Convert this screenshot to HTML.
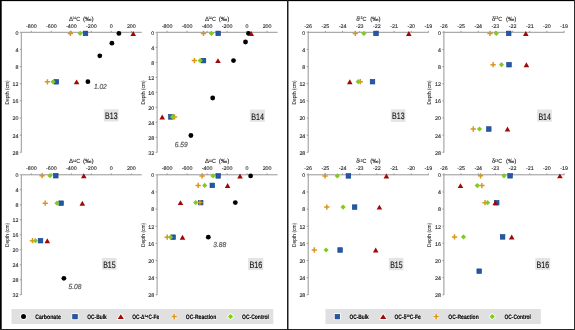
<!DOCTYPE html><html><head><meta charset="utf-8"><style>html,body{margin:0;padding:0;background:#fff;overflow:hidden}svg{display:block;will-change:transform}</style></head><body><svg width="575" height="330" viewBox="0 0 575 330" text-rendering="geometricPrecision" font-family='"Liberation Sans", sans-serif'>
<rect width="575" height="330" fill="#fff"/>
<path d="M21.30 32.30 H141.80 M21.30 32.30 V152.50" stroke="#8a8a8a" stroke-width="0.9" fill="none"/>
<path d="M31.30 30.80 V32.30" stroke="#8a8a8a" stroke-width="0.8"/>
<text x="31.30" y="27.50" font-size="5.3" text-anchor="middle" fill="#1c1c1c" stroke="#1c1c1c" stroke-width="0.1" >-800</text>
<path d="M51.30 30.80 V32.30" stroke="#8a8a8a" stroke-width="0.8"/>
<text x="51.30" y="27.50" font-size="5.3" text-anchor="middle" fill="#1c1c1c" stroke="#1c1c1c" stroke-width="0.1" >-600</text>
<path d="M71.30 30.80 V32.30" stroke="#8a8a8a" stroke-width="0.8"/>
<text x="71.30" y="27.50" font-size="5.3" text-anchor="middle" fill="#1c1c1c" stroke="#1c1c1c" stroke-width="0.1" >-400</text>
<path d="M91.30 30.80 V32.30" stroke="#8a8a8a" stroke-width="0.8"/>
<text x="91.30" y="27.50" font-size="5.3" text-anchor="middle" fill="#1c1c1c" stroke="#1c1c1c" stroke-width="0.1" >-200</text>
<path d="M111.30 30.80 V32.30" stroke="#8a8a8a" stroke-width="0.8"/>
<text x="111.30" y="27.50" font-size="5.3" text-anchor="middle" fill="#1c1c1c" stroke="#1c1c1c" stroke-width="0.1" >0</text>
<path d="M131.30 30.80 V32.30" stroke="#8a8a8a" stroke-width="0.8"/>
<text x="131.30" y="27.50" font-size="5.3" text-anchor="middle" fill="#1c1c1c" stroke="#1c1c1c" stroke-width="0.1" >200</text>
<path d="M19.80 32.30 H21.30" stroke="#8a8a8a" stroke-width="0.8"/>
<text x="18.40" y="34.65" font-size="5.3" text-anchor="end" fill="#1c1c1c" stroke="#1c1c1c" stroke-width="0.1" >0</text>
<path d="M19.80 49.44 H21.30" stroke="#8a8a8a" stroke-width="0.8"/>
<text x="18.40" y="51.79" font-size="5.3" text-anchor="end" fill="#1c1c1c" stroke="#1c1c1c" stroke-width="0.1" >4</text>
<path d="M19.80 66.59 H21.30" stroke="#8a8a8a" stroke-width="0.8"/>
<text x="18.40" y="68.94" font-size="5.3" text-anchor="end" fill="#1c1c1c" stroke="#1c1c1c" stroke-width="0.1" >8</text>
<path d="M19.80 83.73 H21.30" stroke="#8a8a8a" stroke-width="0.8"/>
<text x="18.40" y="86.08" font-size="5.3" text-anchor="end" fill="#1c1c1c" stroke="#1c1c1c" stroke-width="0.1" >12</text>
<path d="M19.80 100.87 H21.30" stroke="#8a8a8a" stroke-width="0.8"/>
<text x="18.40" y="103.22" font-size="5.3" text-anchor="end" fill="#1c1c1c" stroke="#1c1c1c" stroke-width="0.1" >16</text>
<path d="M19.80 118.01 H21.30" stroke="#8a8a8a" stroke-width="0.8"/>
<text x="18.40" y="120.36" font-size="5.3" text-anchor="end" fill="#1c1c1c" stroke="#1c1c1c" stroke-width="0.1" >20</text>
<path d="M19.80 135.16 H21.30" stroke="#8a8a8a" stroke-width="0.8"/>
<text x="18.40" y="137.51" font-size="5.3" text-anchor="end" fill="#1c1c1c" stroke="#1c1c1c" stroke-width="0.1" >24</text>
<path d="M19.80 152.30 H21.30" stroke="#8a8a8a" stroke-width="0.8"/>
<text x="18.40" y="154.65" font-size="5.3" text-anchor="end" fill="#1c1c1c" stroke="#1c1c1c" stroke-width="0.1" >28</text>
<text x="69.10" y="20.90" font-size="6.0" fill="#1a1a1a" stroke="#1a1a1a" stroke-width="0.1">Δ</text>
<text x="72.60" y="19.00" font-size="3.7" fill="#1a1a1a" stroke="#1a1a1a" stroke-width="0.1" textLength="3.3" lengthAdjust="spacingAndGlyphs">14</text>
<text x="76.30" y="20.90" font-size="6.0" fill="#1a1a1a" stroke="#1a1a1a" stroke-width="0.1" textLength="3.9" lengthAdjust="spacingAndGlyphs">C</text>
<text x="82.90" y="20.90" font-size="6.2" fill="#1a1a1a" stroke="#1a1a1a" stroke-width="0.1" textLength="10.80" lengthAdjust="spacingAndGlyphs">(‰)</text>
<text transform="translate(8.60 92.40) rotate(-90)" font-size="5.6" text-anchor="middle" fill="#1a1a1a" stroke="#1a1a1a" stroke-width="0.05" textLength="24" lengthAdjust="spacingAndGlyphs">Depth (cm)</text>
<rect x="103.8" y="109.2" width="14.70" height="12.30" fill="#e4e4e4"/>
<text x="111.35" y="119.20" font-size="9.4" text-anchor="middle" fill="#111" stroke="#111" stroke-width="0.12" textLength="12.50" lengthAdjust="spacingAndGlyphs">B13</text>
<path d="M157.10 32.30 H277.60 M157.10 32.30 V152.50" stroke="#8a8a8a" stroke-width="0.9" fill="none"/>
<path d="M167.10 30.80 V32.30" stroke="#8a8a8a" stroke-width="0.8"/>
<text x="167.10" y="27.50" font-size="5.3" text-anchor="middle" fill="#1c1c1c" stroke="#1c1c1c" stroke-width="0.1" >-800</text>
<path d="M187.10 30.80 V32.30" stroke="#8a8a8a" stroke-width="0.8"/>
<text x="187.10" y="27.50" font-size="5.3" text-anchor="middle" fill="#1c1c1c" stroke="#1c1c1c" stroke-width="0.1" >-600</text>
<path d="M207.10 30.80 V32.30" stroke="#8a8a8a" stroke-width="0.8"/>
<text x="207.10" y="27.50" font-size="5.3" text-anchor="middle" fill="#1c1c1c" stroke="#1c1c1c" stroke-width="0.1" >-400</text>
<path d="M227.10 30.80 V32.30" stroke="#8a8a8a" stroke-width="0.8"/>
<text x="227.10" y="27.50" font-size="5.3" text-anchor="middle" fill="#1c1c1c" stroke="#1c1c1c" stroke-width="0.1" >-200</text>
<path d="M247.10 30.80 V32.30" stroke="#8a8a8a" stroke-width="0.8"/>
<text x="247.10" y="27.50" font-size="5.3" text-anchor="middle" fill="#1c1c1c" stroke="#1c1c1c" stroke-width="0.1" >0</text>
<path d="M267.10 30.80 V32.30" stroke="#8a8a8a" stroke-width="0.8"/>
<text x="267.10" y="27.50" font-size="5.3" text-anchor="middle" fill="#1c1c1c" stroke="#1c1c1c" stroke-width="0.1" >200</text>
<path d="M155.60 32.30 H157.10" stroke="#8a8a8a" stroke-width="0.8"/>
<text x="154.20" y="34.65" font-size="5.3" text-anchor="end" fill="#1c1c1c" stroke="#1c1c1c" stroke-width="0.1" >0</text>
<path d="M155.60 47.30 H157.10" stroke="#8a8a8a" stroke-width="0.8"/>
<text x="154.20" y="49.65" font-size="5.3" text-anchor="end" fill="#1c1c1c" stroke="#1c1c1c" stroke-width="0.1" >4</text>
<path d="M155.60 62.30 H157.10" stroke="#8a8a8a" stroke-width="0.8"/>
<text x="154.20" y="64.65" font-size="5.3" text-anchor="end" fill="#1c1c1c" stroke="#1c1c1c" stroke-width="0.1" >8</text>
<path d="M155.60 77.30 H157.10" stroke="#8a8a8a" stroke-width="0.8"/>
<text x="154.20" y="79.65" font-size="5.3" text-anchor="end" fill="#1c1c1c" stroke="#1c1c1c" stroke-width="0.1" >12</text>
<path d="M155.60 92.30 H157.10" stroke="#8a8a8a" stroke-width="0.8"/>
<text x="154.20" y="94.65" font-size="5.3" text-anchor="end" fill="#1c1c1c" stroke="#1c1c1c" stroke-width="0.1" >16</text>
<path d="M155.60 107.30 H157.10" stroke="#8a8a8a" stroke-width="0.8"/>
<text x="154.20" y="109.65" font-size="5.3" text-anchor="end" fill="#1c1c1c" stroke="#1c1c1c" stroke-width="0.1" >20</text>
<path d="M155.60 122.30 H157.10" stroke="#8a8a8a" stroke-width="0.8"/>
<text x="154.20" y="124.65" font-size="5.3" text-anchor="end" fill="#1c1c1c" stroke="#1c1c1c" stroke-width="0.1" >24</text>
<path d="M155.60 137.30 H157.10" stroke="#8a8a8a" stroke-width="0.8"/>
<text x="154.20" y="139.65" font-size="5.3" text-anchor="end" fill="#1c1c1c" stroke="#1c1c1c" stroke-width="0.1" >28</text>
<path d="M155.60 152.30 H157.10" stroke="#8a8a8a" stroke-width="0.8"/>
<text x="154.20" y="154.65" font-size="5.3" text-anchor="end" fill="#1c1c1c" stroke="#1c1c1c" stroke-width="0.1" >32</text>
<text x="204.90" y="20.90" font-size="6.0" fill="#1a1a1a" stroke="#1a1a1a" stroke-width="0.1">Δ</text>
<text x="208.40" y="19.00" font-size="3.7" fill="#1a1a1a" stroke="#1a1a1a" stroke-width="0.1" textLength="3.3" lengthAdjust="spacingAndGlyphs">14</text>
<text x="212.10" y="20.90" font-size="6.0" fill="#1a1a1a" stroke="#1a1a1a" stroke-width="0.1" textLength="3.9" lengthAdjust="spacingAndGlyphs">C</text>
<text x="218.70" y="20.90" font-size="6.2" fill="#1a1a1a" stroke="#1a1a1a" stroke-width="0.1" textLength="10.80" lengthAdjust="spacingAndGlyphs">(‰)</text>
<text transform="translate(144.60 92.40) rotate(-90)" font-size="5.6" text-anchor="middle" fill="#1a1a1a" stroke="#1a1a1a" stroke-width="0.05" textLength="24" lengthAdjust="spacingAndGlyphs">Depth (cm)</text>
<rect x="249.9" y="109.6" width="15.00" height="12.20" fill="#e4e4e4"/>
<text x="257.60" y="119.60" font-size="9.4" text-anchor="middle" fill="#111" stroke="#111" stroke-width="0.12" textLength="12.80" lengthAdjust="spacingAndGlyphs">B14</text>
<path d="M21.30 174.80 H141.80 M21.30 174.80 V295.00" stroke="#8a8a8a" stroke-width="0.9" fill="none"/>
<path d="M31.30 173.30 V174.80" stroke="#8a8a8a" stroke-width="0.8"/>
<text x="31.30" y="170.00" font-size="5.3" text-anchor="middle" fill="#1c1c1c" stroke="#1c1c1c" stroke-width="0.1" >-800</text>
<path d="M51.30 173.30 V174.80" stroke="#8a8a8a" stroke-width="0.8"/>
<text x="51.30" y="170.00" font-size="5.3" text-anchor="middle" fill="#1c1c1c" stroke="#1c1c1c" stroke-width="0.1" >-600</text>
<path d="M71.30 173.30 V174.80" stroke="#8a8a8a" stroke-width="0.8"/>
<text x="71.30" y="170.00" font-size="5.3" text-anchor="middle" fill="#1c1c1c" stroke="#1c1c1c" stroke-width="0.1" >-400</text>
<path d="M91.30 173.30 V174.80" stroke="#8a8a8a" stroke-width="0.8"/>
<text x="91.30" y="170.00" font-size="5.3" text-anchor="middle" fill="#1c1c1c" stroke="#1c1c1c" stroke-width="0.1" >-200</text>
<path d="M111.30 173.30 V174.80" stroke="#8a8a8a" stroke-width="0.8"/>
<text x="111.30" y="170.00" font-size="5.3" text-anchor="middle" fill="#1c1c1c" stroke="#1c1c1c" stroke-width="0.1" >0</text>
<path d="M131.30 173.30 V174.80" stroke="#8a8a8a" stroke-width="0.8"/>
<text x="131.30" y="170.00" font-size="5.3" text-anchor="middle" fill="#1c1c1c" stroke="#1c1c1c" stroke-width="0.1" >200</text>
<path d="M19.80 174.80 H21.30" stroke="#8a8a8a" stroke-width="0.8"/>
<text x="18.40" y="177.15" font-size="5.3" text-anchor="end" fill="#1c1c1c" stroke="#1c1c1c" stroke-width="0.1" >0</text>
<path d="M19.80 189.80 H21.30" stroke="#8a8a8a" stroke-width="0.8"/>
<text x="18.40" y="192.15" font-size="5.3" text-anchor="end" fill="#1c1c1c" stroke="#1c1c1c" stroke-width="0.1" >4</text>
<path d="M19.80 204.80 H21.30" stroke="#8a8a8a" stroke-width="0.8"/>
<text x="18.40" y="207.15" font-size="5.3" text-anchor="end" fill="#1c1c1c" stroke="#1c1c1c" stroke-width="0.1" >8</text>
<path d="M19.80 219.80 H21.30" stroke="#8a8a8a" stroke-width="0.8"/>
<text x="18.40" y="222.15" font-size="5.3" text-anchor="end" fill="#1c1c1c" stroke="#1c1c1c" stroke-width="0.1" >12</text>
<path d="M19.80 234.80 H21.30" stroke="#8a8a8a" stroke-width="0.8"/>
<text x="18.40" y="237.15" font-size="5.3" text-anchor="end" fill="#1c1c1c" stroke="#1c1c1c" stroke-width="0.1" >16</text>
<path d="M19.80 249.80 H21.30" stroke="#8a8a8a" stroke-width="0.8"/>
<text x="18.40" y="252.15" font-size="5.3" text-anchor="end" fill="#1c1c1c" stroke="#1c1c1c" stroke-width="0.1" >20</text>
<path d="M19.80 264.80 H21.30" stroke="#8a8a8a" stroke-width="0.8"/>
<text x="18.40" y="267.15" font-size="5.3" text-anchor="end" fill="#1c1c1c" stroke="#1c1c1c" stroke-width="0.1" >24</text>
<path d="M19.80 279.80 H21.30" stroke="#8a8a8a" stroke-width="0.8"/>
<text x="18.40" y="282.15" font-size="5.3" text-anchor="end" fill="#1c1c1c" stroke="#1c1c1c" stroke-width="0.1" >28</text>
<path d="M19.80 294.80 H21.30" stroke="#8a8a8a" stroke-width="0.8"/>
<text x="18.40" y="297.15" font-size="5.3" text-anchor="end" fill="#1c1c1c" stroke="#1c1c1c" stroke-width="0.1" >32</text>
<text x="69.10" y="163.40" font-size="6.0" fill="#1a1a1a" stroke="#1a1a1a" stroke-width="0.1">Δ</text>
<text x="72.60" y="161.50" font-size="3.7" fill="#1a1a1a" stroke="#1a1a1a" stroke-width="0.1" textLength="3.3" lengthAdjust="spacingAndGlyphs">14</text>
<text x="76.30" y="163.40" font-size="6.0" fill="#1a1a1a" stroke="#1a1a1a" stroke-width="0.1" textLength="3.9" lengthAdjust="spacingAndGlyphs">C</text>
<text x="82.90" y="163.40" font-size="6.2" fill="#1a1a1a" stroke="#1a1a1a" stroke-width="0.1" textLength="10.80" lengthAdjust="spacingAndGlyphs">(‰)</text>
<text transform="translate(8.60 234.90) rotate(-90)" font-size="5.6" text-anchor="middle" fill="#1a1a1a" stroke="#1a1a1a" stroke-width="0.05" textLength="24" lengthAdjust="spacingAndGlyphs">Depth (cm)</text>
<rect x="101.9" y="257.9" width="14.60" height="11.90" fill="#e4e4e4"/>
<text x="109.40" y="267.90" font-size="9.4" text-anchor="middle" fill="#111" stroke="#111" stroke-width="0.12" textLength="12.40" lengthAdjust="spacingAndGlyphs">B15</text>
<path d="M157.10 174.80 H277.60 M157.10 174.80 V295.00" stroke="#8a8a8a" stroke-width="0.9" fill="none"/>
<path d="M167.10 173.30 V174.80" stroke="#8a8a8a" stroke-width="0.8"/>
<text x="167.10" y="170.00" font-size="5.3" text-anchor="middle" fill="#1c1c1c" stroke="#1c1c1c" stroke-width="0.1" >-800</text>
<path d="M187.10 173.30 V174.80" stroke="#8a8a8a" stroke-width="0.8"/>
<text x="187.10" y="170.00" font-size="5.3" text-anchor="middle" fill="#1c1c1c" stroke="#1c1c1c" stroke-width="0.1" >-600</text>
<path d="M207.10 173.30 V174.80" stroke="#8a8a8a" stroke-width="0.8"/>
<text x="207.10" y="170.00" font-size="5.3" text-anchor="middle" fill="#1c1c1c" stroke="#1c1c1c" stroke-width="0.1" >-400</text>
<path d="M227.10 173.30 V174.80" stroke="#8a8a8a" stroke-width="0.8"/>
<text x="227.10" y="170.00" font-size="5.3" text-anchor="middle" fill="#1c1c1c" stroke="#1c1c1c" stroke-width="0.1" >-200</text>
<path d="M247.10 173.30 V174.80" stroke="#8a8a8a" stroke-width="0.8"/>
<text x="247.10" y="170.00" font-size="5.3" text-anchor="middle" fill="#1c1c1c" stroke="#1c1c1c" stroke-width="0.1" >0</text>
<path d="M267.10 173.30 V174.80" stroke="#8a8a8a" stroke-width="0.8"/>
<text x="267.10" y="170.00" font-size="5.3" text-anchor="middle" fill="#1c1c1c" stroke="#1c1c1c" stroke-width="0.1" >200</text>
<path d="M155.60 174.80 H157.10" stroke="#8a8a8a" stroke-width="0.8"/>
<text x="154.20" y="177.15" font-size="5.3" text-anchor="end" fill="#1c1c1c" stroke="#1c1c1c" stroke-width="0.1" >0</text>
<path d="M155.60 191.94 H157.10" stroke="#8a8a8a" stroke-width="0.8"/>
<text x="154.20" y="194.29" font-size="5.3" text-anchor="end" fill="#1c1c1c" stroke="#1c1c1c" stroke-width="0.1" >4</text>
<path d="M155.60 209.09 H157.10" stroke="#8a8a8a" stroke-width="0.8"/>
<text x="154.20" y="211.44" font-size="5.3" text-anchor="end" fill="#1c1c1c" stroke="#1c1c1c" stroke-width="0.1" >8</text>
<path d="M155.60 226.23 H157.10" stroke="#8a8a8a" stroke-width="0.8"/>
<text x="154.20" y="228.58" font-size="5.3" text-anchor="end" fill="#1c1c1c" stroke="#1c1c1c" stroke-width="0.1" >12</text>
<path d="M155.60 243.37 H157.10" stroke="#8a8a8a" stroke-width="0.8"/>
<text x="154.20" y="245.72" font-size="5.3" text-anchor="end" fill="#1c1c1c" stroke="#1c1c1c" stroke-width="0.1" >16</text>
<path d="M155.60 260.51 H157.10" stroke="#8a8a8a" stroke-width="0.8"/>
<text x="154.20" y="262.86" font-size="5.3" text-anchor="end" fill="#1c1c1c" stroke="#1c1c1c" stroke-width="0.1" >20</text>
<path d="M155.60 277.66 H157.10" stroke="#8a8a8a" stroke-width="0.8"/>
<text x="154.20" y="280.01" font-size="5.3" text-anchor="end" fill="#1c1c1c" stroke="#1c1c1c" stroke-width="0.1" >24</text>
<path d="M155.60 294.80 H157.10" stroke="#8a8a8a" stroke-width="0.8"/>
<text x="154.20" y="297.15" font-size="5.3" text-anchor="end" fill="#1c1c1c" stroke="#1c1c1c" stroke-width="0.1" >28</text>
<text x="204.90" y="163.40" font-size="6.0" fill="#1a1a1a" stroke="#1a1a1a" stroke-width="0.1">Δ</text>
<text x="208.40" y="161.50" font-size="3.7" fill="#1a1a1a" stroke="#1a1a1a" stroke-width="0.1" textLength="3.3" lengthAdjust="spacingAndGlyphs">14</text>
<text x="212.10" y="163.40" font-size="6.0" fill="#1a1a1a" stroke="#1a1a1a" stroke-width="0.1" textLength="3.9" lengthAdjust="spacingAndGlyphs">C</text>
<text x="218.70" y="163.40" font-size="6.2" fill="#1a1a1a" stroke="#1a1a1a" stroke-width="0.1" textLength="10.80" lengthAdjust="spacingAndGlyphs">(‰)</text>
<text transform="translate(144.60 234.90) rotate(-90)" font-size="5.6" text-anchor="middle" fill="#1a1a1a" stroke="#1a1a1a" stroke-width="0.05" textLength="24" lengthAdjust="spacingAndGlyphs">Depth (cm)</text>
<rect x="248.1" y="257.9" width="15.20" height="12.20" fill="#e4e4e4"/>
<text x="255.90" y="267.90" font-size="9.4" text-anchor="middle" fill="#111" stroke="#111" stroke-width="0.12" textLength="13.00" lengthAdjust="spacingAndGlyphs">B16</text>
<path d="M308.20 32.30 H428.70 M308.20 32.30 V152.50" stroke="#8a8a8a" stroke-width="0.9" fill="none"/>
<path d="M308.20 30.80 V32.30" stroke="#8a8a8a" stroke-width="0.8"/>
<text x="308.20" y="27.50" font-size="5.3" text-anchor="middle" fill="#1c1c1c" stroke="#1c1c1c" stroke-width="0.1" >-26</text>
<path d="M325.37 30.80 V32.30" stroke="#8a8a8a" stroke-width="0.8"/>
<text x="325.37" y="27.50" font-size="5.3" text-anchor="middle" fill="#1c1c1c" stroke="#1c1c1c" stroke-width="0.1" >-25</text>
<path d="M342.54 30.80 V32.30" stroke="#8a8a8a" stroke-width="0.8"/>
<text x="342.54" y="27.50" font-size="5.3" text-anchor="middle" fill="#1c1c1c" stroke="#1c1c1c" stroke-width="0.1" >-24</text>
<path d="M359.71 30.80 V32.30" stroke="#8a8a8a" stroke-width="0.8"/>
<text x="359.71" y="27.50" font-size="5.3" text-anchor="middle" fill="#1c1c1c" stroke="#1c1c1c" stroke-width="0.1" >-23</text>
<path d="M376.88 30.80 V32.30" stroke="#8a8a8a" stroke-width="0.8"/>
<text x="376.88" y="27.50" font-size="5.3" text-anchor="middle" fill="#1c1c1c" stroke="#1c1c1c" stroke-width="0.1" >-22</text>
<path d="M394.05 30.80 V32.30" stroke="#8a8a8a" stroke-width="0.8"/>
<text x="394.05" y="27.50" font-size="5.3" text-anchor="middle" fill="#1c1c1c" stroke="#1c1c1c" stroke-width="0.1" >-21</text>
<path d="M411.22 30.80 V32.30" stroke="#8a8a8a" stroke-width="0.8"/>
<text x="411.22" y="27.50" font-size="5.3" text-anchor="middle" fill="#1c1c1c" stroke="#1c1c1c" stroke-width="0.1" >-20</text>
<path d="M428.39 30.80 V32.30" stroke="#8a8a8a" stroke-width="0.8"/>
<text x="428.39" y="27.50" font-size="5.3" text-anchor="middle" fill="#1c1c1c" stroke="#1c1c1c" stroke-width="0.1" >-19</text>
<path d="M306.70 32.30 H308.20" stroke="#8a8a8a" stroke-width="0.8"/>
<text x="305.30" y="34.65" font-size="5.3" text-anchor="end" fill="#1c1c1c" stroke="#1c1c1c" stroke-width="0.1" >0</text>
<path d="M306.70 49.44 H308.20" stroke="#8a8a8a" stroke-width="0.8"/>
<text x="305.30" y="51.79" font-size="5.3" text-anchor="end" fill="#1c1c1c" stroke="#1c1c1c" stroke-width="0.1" >4</text>
<path d="M306.70 66.59 H308.20" stroke="#8a8a8a" stroke-width="0.8"/>
<text x="305.30" y="68.94" font-size="5.3" text-anchor="end" fill="#1c1c1c" stroke="#1c1c1c" stroke-width="0.1" >8</text>
<path d="M306.70 83.73 H308.20" stroke="#8a8a8a" stroke-width="0.8"/>
<text x="305.30" y="86.08" font-size="5.3" text-anchor="end" fill="#1c1c1c" stroke="#1c1c1c" stroke-width="0.1" >12</text>
<path d="M306.70 100.87 H308.20" stroke="#8a8a8a" stroke-width="0.8"/>
<text x="305.30" y="103.22" font-size="5.3" text-anchor="end" fill="#1c1c1c" stroke="#1c1c1c" stroke-width="0.1" >16</text>
<path d="M306.70 118.01 H308.20" stroke="#8a8a8a" stroke-width="0.8"/>
<text x="305.30" y="120.36" font-size="5.3" text-anchor="end" fill="#1c1c1c" stroke="#1c1c1c" stroke-width="0.1" >20</text>
<path d="M306.70 135.16 H308.20" stroke="#8a8a8a" stroke-width="0.8"/>
<text x="305.30" y="137.51" font-size="5.3" text-anchor="end" fill="#1c1c1c" stroke="#1c1c1c" stroke-width="0.1" >24</text>
<path d="M306.70 152.30 H308.20" stroke="#8a8a8a" stroke-width="0.8"/>
<text x="305.30" y="154.65" font-size="5.3" text-anchor="end" fill="#1c1c1c" stroke="#1c1c1c" stroke-width="0.1" >28</text>
<text x="356.30" y="20.90" font-size="6.0" fill="#1a1a1a" stroke="#1a1a1a" stroke-width="0.1">δ</text>
<text x="359.10" y="19.00" font-size="3.7" fill="#1a1a1a" stroke="#1a1a1a" stroke-width="0.1" textLength="3.3" lengthAdjust="spacingAndGlyphs">13</text>
<text x="362.50" y="20.90" font-size="6.0" fill="#1a1a1a" stroke="#1a1a1a" stroke-width="0.1" textLength="3.9" lengthAdjust="spacingAndGlyphs">C</text>
<text x="370.20" y="20.90" font-size="6.2" fill="#1a1a1a" stroke="#1a1a1a" stroke-width="0.1" textLength="10.40" lengthAdjust="spacingAndGlyphs">(‰)</text>
<text transform="translate(295.60 92.40) rotate(-90)" font-size="5.6" text-anchor="middle" fill="#1a1a1a" stroke="#1a1a1a" stroke-width="0.05" textLength="24" lengthAdjust="spacingAndGlyphs">Depth (cm)</text>
<rect x="390.8" y="109.3" width="14.70" height="12.60" fill="#e4e4e4"/>
<text x="398.35" y="119.30" font-size="9.4" text-anchor="middle" fill="#111" stroke="#111" stroke-width="0.12" textLength="12.50" lengthAdjust="spacingAndGlyphs">B13</text>
<path d="M443.90 32.30 H564.40 M443.90 32.30 V152.50" stroke="#8a8a8a" stroke-width="0.9" fill="none"/>
<path d="M443.90 30.80 V32.30" stroke="#8a8a8a" stroke-width="0.8"/>
<text x="443.90" y="27.50" font-size="5.3" text-anchor="middle" fill="#1c1c1c" stroke="#1c1c1c" stroke-width="0.1" >-26</text>
<path d="M461.07 30.80 V32.30" stroke="#8a8a8a" stroke-width="0.8"/>
<text x="461.07" y="27.50" font-size="5.3" text-anchor="middle" fill="#1c1c1c" stroke="#1c1c1c" stroke-width="0.1" >-25</text>
<path d="M478.24 30.80 V32.30" stroke="#8a8a8a" stroke-width="0.8"/>
<text x="478.24" y="27.50" font-size="5.3" text-anchor="middle" fill="#1c1c1c" stroke="#1c1c1c" stroke-width="0.1" >-24</text>
<path d="M495.41 30.80 V32.30" stroke="#8a8a8a" stroke-width="0.8"/>
<text x="495.41" y="27.50" font-size="5.3" text-anchor="middle" fill="#1c1c1c" stroke="#1c1c1c" stroke-width="0.1" >-23</text>
<path d="M512.58 30.80 V32.30" stroke="#8a8a8a" stroke-width="0.8"/>
<text x="512.58" y="27.50" font-size="5.3" text-anchor="middle" fill="#1c1c1c" stroke="#1c1c1c" stroke-width="0.1" >-22</text>
<path d="M529.75 30.80 V32.30" stroke="#8a8a8a" stroke-width="0.8"/>
<text x="529.75" y="27.50" font-size="5.3" text-anchor="middle" fill="#1c1c1c" stroke="#1c1c1c" stroke-width="0.1" >-21</text>
<path d="M546.92 30.80 V32.30" stroke="#8a8a8a" stroke-width="0.8"/>
<text x="546.92" y="27.50" font-size="5.3" text-anchor="middle" fill="#1c1c1c" stroke="#1c1c1c" stroke-width="0.1" >-20</text>
<path d="M564.09 30.80 V32.30" stroke="#8a8a8a" stroke-width="0.8"/>
<text x="564.09" y="27.50" font-size="5.3" text-anchor="middle" fill="#1c1c1c" stroke="#1c1c1c" stroke-width="0.1" >-19</text>
<path d="M442.40 32.30 H443.90" stroke="#8a8a8a" stroke-width="0.8"/>
<text x="441.00" y="34.65" font-size="5.3" text-anchor="end" fill="#1c1c1c" stroke="#1c1c1c" stroke-width="0.1" >0</text>
<path d="M442.40 49.44 H443.90" stroke="#8a8a8a" stroke-width="0.8"/>
<text x="441.00" y="51.79" font-size="5.3" text-anchor="end" fill="#1c1c1c" stroke="#1c1c1c" stroke-width="0.1" >4</text>
<path d="M442.40 66.59 H443.90" stroke="#8a8a8a" stroke-width="0.8"/>
<text x="441.00" y="68.94" font-size="5.3" text-anchor="end" fill="#1c1c1c" stroke="#1c1c1c" stroke-width="0.1" >8</text>
<path d="M442.40 83.73 H443.90" stroke="#8a8a8a" stroke-width="0.8"/>
<text x="441.00" y="86.08" font-size="5.3" text-anchor="end" fill="#1c1c1c" stroke="#1c1c1c" stroke-width="0.1" >12</text>
<path d="M442.40 100.87 H443.90" stroke="#8a8a8a" stroke-width="0.8"/>
<text x="441.00" y="103.22" font-size="5.3" text-anchor="end" fill="#1c1c1c" stroke="#1c1c1c" stroke-width="0.1" >16</text>
<path d="M442.40 118.01 H443.90" stroke="#8a8a8a" stroke-width="0.8"/>
<text x="441.00" y="120.36" font-size="5.3" text-anchor="end" fill="#1c1c1c" stroke="#1c1c1c" stroke-width="0.1" >20</text>
<path d="M442.40 135.16 H443.90" stroke="#8a8a8a" stroke-width="0.8"/>
<text x="441.00" y="137.51" font-size="5.3" text-anchor="end" fill="#1c1c1c" stroke="#1c1c1c" stroke-width="0.1" >24</text>
<path d="M442.40 152.30 H443.90" stroke="#8a8a8a" stroke-width="0.8"/>
<text x="441.00" y="154.65" font-size="5.3" text-anchor="end" fill="#1c1c1c" stroke="#1c1c1c" stroke-width="0.1" >28</text>
<text x="492.00" y="20.90" font-size="6.0" fill="#1a1a1a" stroke="#1a1a1a" stroke-width="0.1">δ</text>
<text x="494.80" y="19.00" font-size="3.7" fill="#1a1a1a" stroke="#1a1a1a" stroke-width="0.1" textLength="3.3" lengthAdjust="spacingAndGlyphs">13</text>
<text x="498.20" y="20.90" font-size="6.0" fill="#1a1a1a" stroke="#1a1a1a" stroke-width="0.1" textLength="3.9" lengthAdjust="spacingAndGlyphs">C</text>
<text x="505.90" y="20.90" font-size="6.2" fill="#1a1a1a" stroke="#1a1a1a" stroke-width="0.1" textLength="10.40" lengthAdjust="spacingAndGlyphs">(‰)</text>
<text transform="translate(431.30 92.40) rotate(-90)" font-size="5.6" text-anchor="middle" fill="#1a1a1a" stroke="#1a1a1a" stroke-width="0.05" textLength="24" lengthAdjust="spacingAndGlyphs">Depth (cm)</text>
<rect x="537.1" y="109.5" width="14.70" height="12.20" fill="#e4e4e4"/>
<text x="544.65" y="119.50" font-size="9.4" text-anchor="middle" fill="#111" stroke="#111" stroke-width="0.12" textLength="12.50" lengthAdjust="spacingAndGlyphs">B14</text>
<path d="M308.20 174.80 H428.70 M308.20 174.80 V295.00" stroke="#8a8a8a" stroke-width="0.9" fill="none"/>
<path d="M308.20 173.30 V174.80" stroke="#8a8a8a" stroke-width="0.8"/>
<text x="308.20" y="170.00" font-size="5.3" text-anchor="middle" fill="#1c1c1c" stroke="#1c1c1c" stroke-width="0.1" >-26</text>
<path d="M325.37 173.30 V174.80" stroke="#8a8a8a" stroke-width="0.8"/>
<text x="325.37" y="170.00" font-size="5.3" text-anchor="middle" fill="#1c1c1c" stroke="#1c1c1c" stroke-width="0.1" >-25</text>
<path d="M342.54 173.30 V174.80" stroke="#8a8a8a" stroke-width="0.8"/>
<text x="342.54" y="170.00" font-size="5.3" text-anchor="middle" fill="#1c1c1c" stroke="#1c1c1c" stroke-width="0.1" >-24</text>
<path d="M359.71 173.30 V174.80" stroke="#8a8a8a" stroke-width="0.8"/>
<text x="359.71" y="170.00" font-size="5.3" text-anchor="middle" fill="#1c1c1c" stroke="#1c1c1c" stroke-width="0.1" >-23</text>
<path d="M376.88 173.30 V174.80" stroke="#8a8a8a" stroke-width="0.8"/>
<text x="376.88" y="170.00" font-size="5.3" text-anchor="middle" fill="#1c1c1c" stroke="#1c1c1c" stroke-width="0.1" >-22</text>
<path d="M394.05 173.30 V174.80" stroke="#8a8a8a" stroke-width="0.8"/>
<text x="394.05" y="170.00" font-size="5.3" text-anchor="middle" fill="#1c1c1c" stroke="#1c1c1c" stroke-width="0.1" >-21</text>
<path d="M411.22 173.30 V174.80" stroke="#8a8a8a" stroke-width="0.8"/>
<text x="411.22" y="170.00" font-size="5.3" text-anchor="middle" fill="#1c1c1c" stroke="#1c1c1c" stroke-width="0.1" >-20</text>
<path d="M428.39 173.30 V174.80" stroke="#8a8a8a" stroke-width="0.8"/>
<text x="428.39" y="170.00" font-size="5.3" text-anchor="middle" fill="#1c1c1c" stroke="#1c1c1c" stroke-width="0.1" >-19</text>
<path d="M306.70 174.80 H308.20" stroke="#8a8a8a" stroke-width="0.8"/>
<text x="305.30" y="177.15" font-size="5.3" text-anchor="end" fill="#1c1c1c" stroke="#1c1c1c" stroke-width="0.1" >0</text>
<path d="M306.70 191.94 H308.20" stroke="#8a8a8a" stroke-width="0.8"/>
<text x="305.30" y="194.29" font-size="5.3" text-anchor="end" fill="#1c1c1c" stroke="#1c1c1c" stroke-width="0.1" >4</text>
<path d="M306.70 209.09 H308.20" stroke="#8a8a8a" stroke-width="0.8"/>
<text x="305.30" y="211.44" font-size="5.3" text-anchor="end" fill="#1c1c1c" stroke="#1c1c1c" stroke-width="0.1" >8</text>
<path d="M306.70 226.23 H308.20" stroke="#8a8a8a" stroke-width="0.8"/>
<text x="305.30" y="228.58" font-size="5.3" text-anchor="end" fill="#1c1c1c" stroke="#1c1c1c" stroke-width="0.1" >12</text>
<path d="M306.70 243.37 H308.20" stroke="#8a8a8a" stroke-width="0.8"/>
<text x="305.30" y="245.72" font-size="5.3" text-anchor="end" fill="#1c1c1c" stroke="#1c1c1c" stroke-width="0.1" >16</text>
<path d="M306.70 260.51 H308.20" stroke="#8a8a8a" stroke-width="0.8"/>
<text x="305.30" y="262.86" font-size="5.3" text-anchor="end" fill="#1c1c1c" stroke="#1c1c1c" stroke-width="0.1" >20</text>
<path d="M306.70 277.66 H308.20" stroke="#8a8a8a" stroke-width="0.8"/>
<text x="305.30" y="280.01" font-size="5.3" text-anchor="end" fill="#1c1c1c" stroke="#1c1c1c" stroke-width="0.1" >24</text>
<path d="M306.70 294.80 H308.20" stroke="#8a8a8a" stroke-width="0.8"/>
<text x="305.30" y="297.15" font-size="5.3" text-anchor="end" fill="#1c1c1c" stroke="#1c1c1c" stroke-width="0.1" >28</text>
<text x="356.30" y="163.40" font-size="6.0" fill="#1a1a1a" stroke="#1a1a1a" stroke-width="0.1">δ</text>
<text x="359.10" y="161.50" font-size="3.7" fill="#1a1a1a" stroke="#1a1a1a" stroke-width="0.1" textLength="3.3" lengthAdjust="spacingAndGlyphs">13</text>
<text x="362.50" y="163.40" font-size="6.0" fill="#1a1a1a" stroke="#1a1a1a" stroke-width="0.1" textLength="3.9" lengthAdjust="spacingAndGlyphs">C</text>
<text x="370.20" y="163.40" font-size="6.2" fill="#1a1a1a" stroke="#1a1a1a" stroke-width="0.1" textLength="10.40" lengthAdjust="spacingAndGlyphs">(‰)</text>
<text transform="translate(295.60 234.90) rotate(-90)" font-size="5.6" text-anchor="middle" fill="#1a1a1a" stroke="#1a1a1a" stroke-width="0.05" textLength="24" lengthAdjust="spacingAndGlyphs">Depth (cm)</text>
<rect x="388.9" y="257.9" width="14.60" height="12.30" fill="#e4e4e4"/>
<text x="396.40" y="267.90" font-size="9.4" text-anchor="middle" fill="#111" stroke="#111" stroke-width="0.12" textLength="12.40" lengthAdjust="spacingAndGlyphs">B15</text>
<path d="M443.90 174.80 H564.40 M443.90 174.80 V295.00" stroke="#8a8a8a" stroke-width="0.9" fill="none"/>
<path d="M443.90 173.30 V174.80" stroke="#8a8a8a" stroke-width="0.8"/>
<text x="443.90" y="170.00" font-size="5.3" text-anchor="middle" fill="#1c1c1c" stroke="#1c1c1c" stroke-width="0.1" >-26</text>
<path d="M461.07 173.30 V174.80" stroke="#8a8a8a" stroke-width="0.8"/>
<text x="461.07" y="170.00" font-size="5.3" text-anchor="middle" fill="#1c1c1c" stroke="#1c1c1c" stroke-width="0.1" >-25</text>
<path d="M478.24 173.30 V174.80" stroke="#8a8a8a" stroke-width="0.8"/>
<text x="478.24" y="170.00" font-size="5.3" text-anchor="middle" fill="#1c1c1c" stroke="#1c1c1c" stroke-width="0.1" >-24</text>
<path d="M495.41 173.30 V174.80" stroke="#8a8a8a" stroke-width="0.8"/>
<text x="495.41" y="170.00" font-size="5.3" text-anchor="middle" fill="#1c1c1c" stroke="#1c1c1c" stroke-width="0.1" >-23</text>
<path d="M512.58 173.30 V174.80" stroke="#8a8a8a" stroke-width="0.8"/>
<text x="512.58" y="170.00" font-size="5.3" text-anchor="middle" fill="#1c1c1c" stroke="#1c1c1c" stroke-width="0.1" >-22</text>
<path d="M529.75 173.30 V174.80" stroke="#8a8a8a" stroke-width="0.8"/>
<text x="529.75" y="170.00" font-size="5.3" text-anchor="middle" fill="#1c1c1c" stroke="#1c1c1c" stroke-width="0.1" >-21</text>
<path d="M546.92 173.30 V174.80" stroke="#8a8a8a" stroke-width="0.8"/>
<text x="546.92" y="170.00" font-size="5.3" text-anchor="middle" fill="#1c1c1c" stroke="#1c1c1c" stroke-width="0.1" >-20</text>
<path d="M564.09 173.30 V174.80" stroke="#8a8a8a" stroke-width="0.8"/>
<text x="564.09" y="170.00" font-size="5.3" text-anchor="middle" fill="#1c1c1c" stroke="#1c1c1c" stroke-width="0.1" >-19</text>
<path d="M442.40 174.80 H443.90" stroke="#8a8a8a" stroke-width="0.8"/>
<text x="441.00" y="177.15" font-size="5.3" text-anchor="end" fill="#1c1c1c" stroke="#1c1c1c" stroke-width="0.1" >0</text>
<path d="M442.40 191.94 H443.90" stroke="#8a8a8a" stroke-width="0.8"/>
<text x="441.00" y="194.29" font-size="5.3" text-anchor="end" fill="#1c1c1c" stroke="#1c1c1c" stroke-width="0.1" >4</text>
<path d="M442.40 209.09 H443.90" stroke="#8a8a8a" stroke-width="0.8"/>
<text x="441.00" y="211.44" font-size="5.3" text-anchor="end" fill="#1c1c1c" stroke="#1c1c1c" stroke-width="0.1" >8</text>
<path d="M442.40 226.23 H443.90" stroke="#8a8a8a" stroke-width="0.8"/>
<text x="441.00" y="228.58" font-size="5.3" text-anchor="end" fill="#1c1c1c" stroke="#1c1c1c" stroke-width="0.1" >12</text>
<path d="M442.40 243.37 H443.90" stroke="#8a8a8a" stroke-width="0.8"/>
<text x="441.00" y="245.72" font-size="5.3" text-anchor="end" fill="#1c1c1c" stroke="#1c1c1c" stroke-width="0.1" >16</text>
<path d="M442.40 260.51 H443.90" stroke="#8a8a8a" stroke-width="0.8"/>
<text x="441.00" y="262.86" font-size="5.3" text-anchor="end" fill="#1c1c1c" stroke="#1c1c1c" stroke-width="0.1" >20</text>
<path d="M442.40 277.66 H443.90" stroke="#8a8a8a" stroke-width="0.8"/>
<text x="441.00" y="280.01" font-size="5.3" text-anchor="end" fill="#1c1c1c" stroke="#1c1c1c" stroke-width="0.1" >24</text>
<path d="M442.40 294.80 H443.90" stroke="#8a8a8a" stroke-width="0.8"/>
<text x="441.00" y="297.15" font-size="5.3" text-anchor="end" fill="#1c1c1c" stroke="#1c1c1c" stroke-width="0.1" >28</text>
<text x="492.00" y="163.40" font-size="6.0" fill="#1a1a1a" stroke="#1a1a1a" stroke-width="0.1">δ</text>
<text x="494.80" y="161.50" font-size="3.7" fill="#1a1a1a" stroke="#1a1a1a" stroke-width="0.1" textLength="3.3" lengthAdjust="spacingAndGlyphs">13</text>
<text x="498.20" y="163.40" font-size="6.0" fill="#1a1a1a" stroke="#1a1a1a" stroke-width="0.1" textLength="3.9" lengthAdjust="spacingAndGlyphs">C</text>
<text x="505.90" y="163.40" font-size="6.2" fill="#1a1a1a" stroke="#1a1a1a" stroke-width="0.1" textLength="10.40" lengthAdjust="spacingAndGlyphs">(‰)</text>
<text transform="translate(431.30 234.90) rotate(-90)" font-size="5.6" text-anchor="middle" fill="#1a1a1a" stroke="#1a1a1a" stroke-width="0.05" textLength="24" lengthAdjust="spacingAndGlyphs">Depth (cm)</text>
<rect x="535.3" y="257.9" width="14.90" height="12.00" fill="#e4e4e4"/>
<text x="542.95" y="267.90" font-size="9.4" text-anchor="middle" fill="#111" stroke="#111" stroke-width="0.12" textLength="12.70" lengthAdjust="spacingAndGlyphs">B16</text>
<circle cx="118.9" cy="33.4" r="2.4" fill="#000"/>
<circle cx="111.9" cy="43.2" r="2.4" fill="#000"/>
<circle cx="99.8" cy="55.8" r="2.4" fill="#000"/>
<circle cx="87.9" cy="81.7" r="2.4" fill="#000"/>
<rect x="83.20" y="31.10" width="4.6" height="4.6" fill="#2159a8" stroke="#183f88" stroke-width="0.6"/>
<rect x="54.10" y="79.50" width="4.6" height="4.6" fill="#2159a8" stroke="#183f88" stroke-width="0.6"/>
<path d="M133.20 31.00 L136.00 35.90 L130.40 35.90 Z" fill="#a00808"/>
<path d="M76.60 79.40 L79.40 84.30 L73.80 84.30 Z" fill="#a00808"/>
<path d="M67.75 33.40 H73.05 M70.40 30.75 V36.05" stroke="#dc951f" stroke-width="1.5" fill="none"/>
<path d="M44.75 81.80 H50.05 M47.40 79.15 V84.45" stroke="#dc951f" stroke-width="1.5" fill="none"/>
<path d="M80.20 30.80 L82.80 33.40 L80.20 36.00 L77.60 33.40 Z" fill="#82cb1c"/>
<path d="M53.10 79.20 L55.70 81.80 L53.10 84.40 L50.50 81.80 Z" fill="#82cb1c"/>
<circle cx="248.5" cy="33.4" r="2.4" fill="#000"/>
<circle cx="245.5" cy="42.0" r="2.4" fill="#000"/>
<circle cx="233.5" cy="60.6" r="2.4" fill="#000"/>
<circle cx="212.7" cy="98.0" r="2.4" fill="#000"/>
<circle cx="190.9" cy="135.5" r="2.4" fill="#000"/>
<rect x="215.90" y="31.10" width="4.6" height="4.6" fill="#2159a8" stroke="#183f88" stroke-width="0.6"/>
<rect x="201.20" y="58.30" width="4.6" height="4.6" fill="#2159a8" stroke="#183f88" stroke-width="0.6"/>
<rect x="168.60" y="114.60" width="4.6" height="4.6" fill="#2159a8" stroke="#183f88" stroke-width="0.6"/>
<path d="M251.20 31.00 L254.00 35.90 L248.40 35.90 Z" fill="#a00808"/>
<path d="M218.00 58.20 L220.80 63.10 L215.20 63.10 Z" fill="#a00808"/>
<path d="M162.20 114.50 L165.00 119.40 L159.40 119.40 Z" fill="#a00808"/>
<path d="M200.85 33.40 H206.15 M203.50 30.75 V36.05" stroke="#dc951f" stroke-width="1.5" fill="none"/>
<path d="M191.75 60.60 H197.05 M194.40 57.95 V63.25" stroke="#dc951f" stroke-width="1.5" fill="none"/>
<path d="M171.85 116.90 H177.15 M174.50 114.25 V119.55" stroke="#dc951f" stroke-width="1.5" fill="none"/>
<path d="M211.40 30.80 L214.00 33.40 L211.40 36.00 L208.80 33.40 Z" fill="#82cb1c"/>
<path d="M200.20 58.00 L202.80 60.60 L200.20 63.20 L197.60 60.60 Z" fill="#82cb1c"/>
<path d="M172.50 114.30 L175.10 116.90 L172.50 119.50 L169.90 116.90 Z" fill="#82cb1c"/>
<circle cx="63.9" cy="278.3" r="2.4" fill="#000"/>
<rect x="53.50" y="173.40" width="4.6" height="4.6" fill="#2159a8" stroke="#183f88" stroke-width="0.6"/>
<rect x="58.80" y="200.90" width="4.6" height="4.6" fill="#2159a8" stroke="#183f88" stroke-width="0.6"/>
<rect x="38.20" y="238.40" width="4.6" height="4.6" fill="#2159a8" stroke="#183f88" stroke-width="0.6"/>
<path d="M83.80 173.30 L86.60 178.20 L81.00 178.20 Z" fill="#a00808"/>
<path d="M82.30 200.80 L85.10 205.70 L79.50 205.70 Z" fill="#a00808"/>
<path d="M47.30 238.30 L50.10 243.20 L44.50 243.20 Z" fill="#a00808"/>
<path d="M39.45 175.70 H44.75 M42.10 173.05 V178.35" stroke="#dc951f" stroke-width="1.5" fill="none"/>
<path d="M42.55 203.20 H47.85 M45.20 200.55 V205.85" stroke="#dc951f" stroke-width="1.5" fill="none"/>
<path d="M29.85 240.70 H35.15 M32.50 238.05 V243.35" stroke="#dc951f" stroke-width="1.5" fill="none"/>
<path d="M50.00 173.10 L52.60 175.70 L50.00 178.30 L47.40 175.70 Z" fill="#82cb1c"/>
<path d="M57.00 200.60 L59.60 203.20 L57.00 205.80 L54.40 203.20 Z" fill="#82cb1c"/>
<path d="M35.50 238.10 L38.10 240.70 L35.50 243.30 L32.90 240.70 Z" fill="#82cb1c"/>
<circle cx="250.6" cy="175.9" r="2.4" fill="#000"/>
<circle cx="235.3" cy="202.6" r="2.4" fill="#000"/>
<circle cx="208.3" cy="237.2" r="2.4" fill="#000"/>
<rect x="215.90" y="173.60" width="4.6" height="4.6" fill="#2159a8" stroke="#183f88" stroke-width="0.6"/>
<rect x="210.00" y="183.10" width="4.6" height="4.6" fill="#2159a8" stroke="#183f88" stroke-width="0.6"/>
<rect x="198.40" y="200.30" width="4.6" height="4.6" fill="#2159a8" stroke="#183f88" stroke-width="0.6"/>
<rect x="170.80" y="234.90" width="4.6" height="4.6" fill="#2159a8" stroke="#183f88" stroke-width="0.6"/>
<path d="M240.00 173.50 L242.80 178.40 L237.20 178.40 Z" fill="#a00808"/>
<path d="M227.60 183.00 L230.40 187.90 L224.80 187.90 Z" fill="#a00808"/>
<path d="M180.50 200.20 L183.30 205.10 L177.70 205.10 Z" fill="#a00808"/>
<path d="M182.50 234.80 L185.30 239.70 L179.70 239.70 Z" fill="#a00808"/>
<path d="M199.45 175.90 H204.75 M202.10 173.25 V178.55" stroke="#dc951f" stroke-width="1.5" fill="none"/>
<path d="M195.55 185.40 H200.85 M198.20 182.75 V188.05" stroke="#dc951f" stroke-width="1.5" fill="none"/>
<path d="M197.25 202.60 H202.55 M199.90 199.95 V205.25" stroke="#dc951f" stroke-width="1.5" fill="none"/>
<path d="M164.55 237.20 H169.85 M167.20 234.55 V239.85" stroke="#dc951f" stroke-width="1.5" fill="none"/>
<path d="M213.00 173.30 L215.60 175.90 L213.00 178.50 L210.40 175.90 Z" fill="#82cb1c"/>
<path d="M204.70 182.80 L207.30 185.40 L204.70 188.00 L202.10 185.40 Z" fill="#82cb1c"/>
<path d="M195.70 200.00 L198.30 202.60 L195.70 205.20 L193.10 202.60 Z" fill="#82cb1c"/>
<path d="M170.60 234.60 L173.20 237.20 L170.60 239.80 L168.00 237.20 Z" fill="#82cb1c"/>
<rect x="373.70" y="31.10" width="4.6" height="4.6" fill="#2159a8" stroke="#183f88" stroke-width="0.6"/>
<rect x="370.20" y="79.40" width="4.6" height="4.6" fill="#2159a8" stroke="#183f88" stroke-width="0.6"/>
<path d="M408.80 31.00 L411.60 35.90 L406.00 35.90 Z" fill="#a00808"/>
<path d="M349.80 79.30 L352.60 84.20 L347.00 84.20 Z" fill="#a00808"/>
<path d="M352.65 33.40 H357.95 M355.30 30.75 V36.05" stroke="#dc951f" stroke-width="1.5" fill="none"/>
<path d="M357.65 81.70 H362.95 M360.30 79.05 V84.35" stroke="#dc951f" stroke-width="1.5" fill="none"/>
<path d="M363.90 30.80 L366.50 33.40 L363.90 36.00 L361.30 33.40 Z" fill="#82cb1c"/>
<path d="M358.20 79.10 L360.80 81.70 L358.20 84.30 L355.60 81.70 Z" fill="#82cb1c"/>
<rect x="506.40" y="31.10" width="4.6" height="4.6" fill="#2159a8" stroke="#183f88" stroke-width="0.6"/>
<rect x="506.70" y="62.40" width="4.6" height="4.6" fill="#2159a8" stroke="#183f88" stroke-width="0.6"/>
<rect x="486.50" y="126.70" width="4.6" height="4.6" fill="#2159a8" stroke="#183f88" stroke-width="0.6"/>
<path d="M525.80 31.00 L528.60 35.90 L523.00 35.90 Z" fill="#a00808"/>
<path d="M526.40 62.30 L529.20 67.20 L523.60 67.20 Z" fill="#a00808"/>
<path d="M507.50 126.60 L510.30 131.50 L504.70 131.50 Z" fill="#a00808"/>
<path d="M487.35 33.40 H492.65 M490.00 30.75 V36.05" stroke="#dc951f" stroke-width="1.5" fill="none"/>
<path d="M490.45 64.70 H495.75 M493.10 62.05 V67.35" stroke="#dc951f" stroke-width="1.5" fill="none"/>
<path d="M470.65 129.00 H475.95 M473.30 126.35 V131.65" stroke="#dc951f" stroke-width="1.5" fill="none"/>
<path d="M496.30 30.80 L498.90 33.40 L496.30 36.00 L493.70 33.40 Z" fill="#82cb1c"/>
<path d="M501.50 62.10 L504.10 64.70 L501.50 67.30 L498.90 64.70 Z" fill="#82cb1c"/>
<path d="M479.50 126.40 L482.10 129.00 L479.50 131.60 L476.90 129.00 Z" fill="#82cb1c"/>
<rect x="346.10" y="173.60" width="4.6" height="4.6" fill="#2159a8" stroke="#183f88" stroke-width="0.6"/>
<rect x="352.30" y="204.80" width="4.6" height="4.6" fill="#2159a8" stroke="#183f88" stroke-width="0.6"/>
<rect x="337.80" y="247.70" width="4.6" height="4.6" fill="#2159a8" stroke="#183f88" stroke-width="0.6"/>
<path d="M386.40 173.50 L389.20 178.40 L383.60 178.40 Z" fill="#a00808"/>
<path d="M379.40 204.70 L382.20 209.60 L376.60 209.60 Z" fill="#a00808"/>
<path d="M375.70 247.60 L378.50 252.50 L372.90 252.50 Z" fill="#a00808"/>
<path d="M322.45 175.90 H327.75 M325.10 173.25 V178.55" stroke="#dc951f" stroke-width="1.5" fill="none"/>
<path d="M324.15 207.10 H329.45 M326.80 204.45 V209.75" stroke="#dc951f" stroke-width="1.5" fill="none"/>
<path d="M311.65 250.00 H316.95 M314.30 247.35 V252.65" stroke="#dc951f" stroke-width="1.5" fill="none"/>
<path d="M337.30 173.30 L339.90 175.90 L337.30 178.50 L334.70 175.90 Z" fill="#82cb1c"/>
<path d="M343.10 204.50 L345.70 207.10 L343.10 209.70 L340.50 207.10 Z" fill="#82cb1c"/>
<path d="M326.10 247.40 L328.70 250.00 L326.10 252.60 L323.50 250.00 Z" fill="#82cb1c"/>
<rect x="507.80" y="173.50" width="4.6" height="4.6" fill="#2159a8" stroke="#183f88" stroke-width="0.6"/>
<rect x="494.40" y="200.40" width="4.6" height="4.6" fill="#2159a8" stroke="#183f88" stroke-width="0.6"/>
<rect x="500.30" y="234.60" width="4.6" height="4.6" fill="#2159a8" stroke="#183f88" stroke-width="0.6"/>
<rect x="476.90" y="268.90" width="4.6" height="4.6" fill="#2159a8" stroke="#183f88" stroke-width="0.6"/>
<path d="M559.90 173.40 L562.70 178.30 L557.10 178.30 Z" fill="#a00808"/>
<path d="M460.50 183.20 L463.30 188.10 L457.70 188.10 Z" fill="#a00808"/>
<path d="M495.30 200.30 L498.10 205.20 L492.50 205.20 Z" fill="#a00808"/>
<path d="M511.70 234.50 L514.50 239.40 L508.90 239.40 Z" fill="#a00808"/>
<path d="M477.85 175.80 H483.15 M480.50 173.15 V178.45" stroke="#dc951f" stroke-width="1.5" fill="none"/>
<path d="M479.25 185.60 H484.55 M481.90 182.95 V188.25" stroke="#dc951f" stroke-width="1.5" fill="none"/>
<path d="M482.35 202.70 H487.65 M485.00 200.05 V205.35" stroke="#dc951f" stroke-width="1.5" fill="none"/>
<path d="M451.85 236.90 H457.15 M454.50 234.25 V239.55" stroke="#dc951f" stroke-width="1.5" fill="none"/>
<path d="M504.00 173.20 L506.60 175.80 L504.00 178.40 L501.40 175.80 Z" fill="#82cb1c"/>
<path d="M477.30 183.00 L479.90 185.60 L477.30 188.20 L474.70 185.60 Z" fill="#82cb1c"/>
<path d="M487.60 200.10 L490.20 202.70 L487.60 205.30 L485.00 202.70 Z" fill="#82cb1c"/>
<path d="M463.50 234.30 L466.10 236.90 L463.50 239.50 L460.90 236.90 Z" fill="#82cb1c"/>
<text x="93.9" y="88.9" font-size="7.3" font-style="italic" fill="#5e5e5e" stroke="#5e5e5e" stroke-width="0.22" textLength="12.9" lengthAdjust="spacingAndGlyphs">1.02</text>
<text x="174.7" y="146.9" font-size="7.3" font-style="italic" fill="#5e5e5e" stroke="#5e5e5e" stroke-width="0.22" textLength="12.9" lengthAdjust="spacingAndGlyphs">6.59</text>
<text x="68.5" y="288.5" font-size="7.3" font-style="italic" fill="#5e5e5e" stroke="#5e5e5e" stroke-width="0.22" textLength="12.9" lengthAdjust="spacingAndGlyphs">5.08</text>
<text x="213.3" y="247.3" font-size="7.3" font-style="italic" fill="#5e5e5e" stroke="#5e5e5e" stroke-width="0.22" textLength="12.9" lengthAdjust="spacingAndGlyphs">3.88</text>
<rect x="11.5" y="309" width="261.80" height="15" fill="#e0e0e0"/>
<circle cx="23.5" cy="316.6" r="3.4" fill="#fafafa"/>
<circle cx="23.5" cy="316.6" r="2.5" fill="#000"/>
<text x="35.2" y="318.9" font-size="6.3" font-weight="bold" fill="#fafafa" stroke="#fafafa" stroke-width="1.3" stroke-linejoin="round" textLength="25.6" lengthAdjust="spacingAndGlyphs">Carbonate</text>
<text x="35.2" y="318.9" font-size="6.3" font-weight="bold" fill="#000" stroke="#000" stroke-width="0.2" textLength="25.6" lengthAdjust="spacingAndGlyphs">Carbonate</text>
<rect x="71.50" y="313.10" width="7.0" height="7.0" fill="#fafafa"/>
<rect x="72.70" y="314.30" width="4.6" height="4.6" fill="#2159a8" stroke="#183f88" stroke-width="0.6"/>
<text x="87.3" y="318.9" font-size="6.3" font-weight="bold" fill="#fafafa" stroke="#fafafa" stroke-width="1.3" stroke-linejoin="round" textLength="19.4" lengthAdjust="spacingAndGlyphs">OC-Bulk</text>
<text x="87.3" y="318.9" font-size="6.3" font-weight="bold" fill="#000" stroke="#000" stroke-width="0.2" textLength="19.4" lengthAdjust="spacingAndGlyphs">OC-Bulk</text>
<path d="M120.80 314.20 L123.90 319.10 L117.70 319.10 Z" fill="#fafafa" stroke="#fafafa" stroke-width="1.8" stroke-linejoin="round"/>
<path d="M120.80 314.20 L123.90 319.10 L117.70 319.10 Z" fill="#a00808"/>
<text x="132.2" y="318.9" font-size="6.3" font-weight="bold" fill="#fafafa" stroke="#fafafa" stroke-width="1.3" stroke-linejoin="round" textLength="27.0" lengthAdjust="spacingAndGlyphs">OC-Δ¹⁴C-Fe</text>
<text x="132.2" y="318.9" font-size="6.3" font-weight="bold" fill="#000" stroke="#000" stroke-width="0.2" textLength="27.0" lengthAdjust="spacingAndGlyphs">OC-Δ¹⁴C-Fe</text>
<path d="M171.55 316.60 H176.85 M174.20 313.95 V319.25" stroke="#fafafa" stroke-width="3.1" fill="none"/>
<path d="M171.55 316.60 H176.85 M174.20 313.95 V319.25" stroke="#dc951f" stroke-width="1.5" fill="none"/>
<text x="185.8" y="318.9" font-size="6.3" font-weight="bold" fill="#fafafa" stroke="#fafafa" stroke-width="1.3" stroke-linejoin="round" textLength="30.4" lengthAdjust="spacingAndGlyphs">OC-Reaction</text>
<text x="185.8" y="318.9" font-size="6.3" font-weight="bold" fill="#000" stroke="#000" stroke-width="0.2" textLength="30.4" lengthAdjust="spacingAndGlyphs">OC-Reaction</text>
<path d="M230.50 314.00 L233.10 316.60 L230.50 319.20 L227.90 316.60 Z" fill="#fafafa" stroke="#fafafa" stroke-width="1.8" stroke-linejoin="round"/>
<path d="M230.50 314.00 L233.10 316.60 L230.50 319.20 L227.90 316.60 Z" fill="#82cb1c"/>
<text x="242.0" y="318.9" font-size="6.3" font-weight="bold" fill="#fafafa" stroke="#fafafa" stroke-width="1.3" stroke-linejoin="round" textLength="27.0" lengthAdjust="spacingAndGlyphs">OC-Control</text>
<text x="242.0" y="318.9" font-size="6.3" font-weight="bold" fill="#000" stroke="#000" stroke-width="0.2" textLength="27.0" lengthAdjust="spacingAndGlyphs">OC-Control</text>
<rect x="325.5" y="309" width="215.30" height="15" fill="#e0e0e0"/>
<rect x="333.90" y="313.10" width="7.0" height="7.0" fill="#fafafa"/>
<rect x="335.10" y="314.30" width="4.6" height="4.6" fill="#2159a8" stroke="#183f88" stroke-width="0.6"/>
<text x="349.4" y="318.9" font-size="6.3" font-weight="bold" fill="#fafafa" stroke="#fafafa" stroke-width="1.3" stroke-linejoin="round" textLength="19.4" lengthAdjust="spacingAndGlyphs">OC-Bulk</text>
<text x="349.4" y="318.9" font-size="6.3" font-weight="bold" fill="#000" stroke="#000" stroke-width="0.2" textLength="19.4" lengthAdjust="spacingAndGlyphs">OC-Bulk</text>
<path d="M383.20 314.20 L386.30 319.10 L380.10 319.10 Z" fill="#fafafa" stroke="#fafafa" stroke-width="1.8" stroke-linejoin="round"/>
<path d="M383.20 314.20 L386.30 319.10 L380.10 319.10 Z" fill="#a00808"/>
<text x="394.4" y="318.9" font-size="6.3" font-weight="bold" fill="#fafafa" stroke="#fafafa" stroke-width="1.3" stroke-linejoin="round" textLength="26.4" lengthAdjust="spacingAndGlyphs">OC-δ¹³C-Fe</text>
<text x="394.4" y="318.9" font-size="6.3" font-weight="bold" fill="#000" stroke="#000" stroke-width="0.2" textLength="26.4" lengthAdjust="spacingAndGlyphs">OC-δ¹³C-Fe</text>
<path d="M433.55 316.60 H438.85 M436.20 313.95 V319.25" stroke="#fafafa" stroke-width="3.1" fill="none"/>
<path d="M433.55 316.60 H438.85 M436.20 313.95 V319.25" stroke="#dc951f" stroke-width="1.5" fill="none"/>
<text x="448.3" y="318.9" font-size="6.3" font-weight="bold" fill="#fafafa" stroke="#fafafa" stroke-width="1.3" stroke-linejoin="round" textLength="30.4" lengthAdjust="spacingAndGlyphs">OC-Reaction</text>
<text x="448.3" y="318.9" font-size="6.3" font-weight="bold" fill="#000" stroke="#000" stroke-width="0.2" textLength="30.4" lengthAdjust="spacingAndGlyphs">OC-Reaction</text>
<path d="M492.20 314.00 L494.80 316.60 L492.20 319.20 L489.60 316.60 Z" fill="#fafafa" stroke="#fafafa" stroke-width="1.8" stroke-linejoin="round"/>
<path d="M492.20 314.00 L494.80 316.60 L492.20 319.20 L489.60 316.60 Z" fill="#82cb1c"/>
<text x="504.4" y="318.9" font-size="6.3" font-weight="bold" fill="#fafafa" stroke="#fafafa" stroke-width="1.3" stroke-linejoin="round" textLength="26.6" lengthAdjust="spacingAndGlyphs">OC-Control</text>
<text x="504.4" y="318.9" font-size="6.3" font-weight="bold" fill="#000" stroke="#000" stroke-width="0.2" textLength="26.6" lengthAdjust="spacingAndGlyphs">OC-Control</text>
<rect x="0" y="0" width="575" height="1.12" fill="#000"/>
<rect x="0" y="0" width="1.7" height="330" fill="#000"/>
<rect x="0" y="329" width="575" height="1" fill="#262626"/>
<rect x="574" y="0" width="1" height="330" fill="#2e2e2e"/>
<rect x="287" y="0" width="1.5" height="330" fill="#1c1c1c"/>
</svg></body></html>
